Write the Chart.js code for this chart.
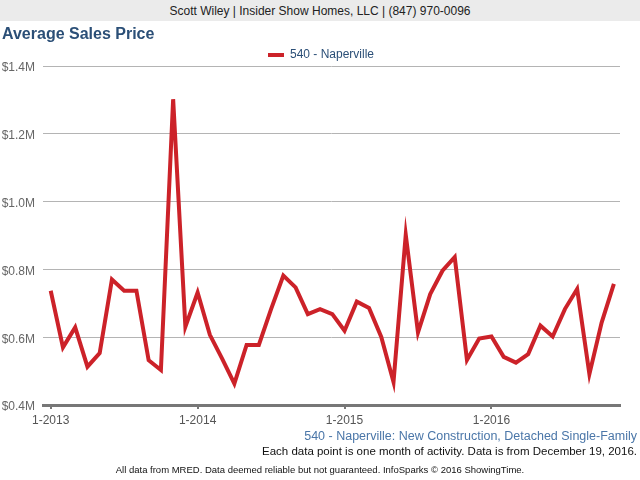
<!DOCTYPE html>
<html>
<head>
<meta charset="utf-8">
<script src="https://cdn.jsdelivr.net/npm/chart.js@4/dist/chart.umd.min.js"></script>
<style>
  body { margin: 0; width: 640px; height: 480px; background: #fff; font-family: "Liberation Sans", Arial, sans-serif; position: relative; overflow: hidden; }
  .header { position: absolute; left: 0; top: 0; width: 640px; height: 21px; background: #ebebeb; color: #222; font-size: 12px; line-height: 22px; text-align: center; }
  .title { position: absolute; left: 2px; top: 25px; font-size: 16px; font-weight: bold; color: #2b4f77; }
  .sub1 { position: absolute; right: 3px; top: 429px; font-size: 12.5px; color: #4a76a8; }
  .sub2 { position: absolute; right: 3px; top: 445px; font-size: 11.5px; color: #111; }
  .foot { position: absolute; left: 0; width: 640px; top: 464px; font-size: 9.5px; color: #111; text-align: center; }
  #wrap { position: absolute; left: 0; top: 0; width: 640px; height: 480px; }
</style>
</head>
<body>
<div id="wrap"><canvas id="chart"></canvas></div>
<div class="header">Scott Wiley | Insider Show Homes, LLC | (847) 970-0096</div>
<div class="title">Average Sales Price</div>
<div class="sub1">540 - Naperville: New Construction, Detached Single-Family</div>
<div class="sub2">Each data point is one month of activity. Data is from December 19, 2016.</div>
<div class="foot">All data from MRED. Data deemed reliable but not guaranteed. InfoSparks © 2016 ShowingTime.</div>
<script>
// months since 1-2013 (Jan 2013 .. Nov 2016)
const seriesName = "540 - Naperville";
const yearLabels = ["1-2013", "1-2014", "1-2015", "1-2016"];
const prices = [
  737000, 570000, 629000, 513000, 553000, 770000, 737000, 737000, 532000, 503000, 1302000, 631000,
  732000, 607000, 537000, 463000, 577000, 577000, 683000, 782000, 747000, 668000, 683000, 668000,
  619000, 705000, 686000, 601000, 468000, 902000, 614000, 727000, 796000, 836000, 533000, 596000,
  602000, 542000, 525000, 550000, 634000, 602000, 683000, 742000, 491000, 643000, 757000
];

const RED = "#cc2229";
const pts = prices.map((v, i) => ({ x: i, y: v }));

// legend is centred on the page, not on the padded box, and sits a bit lower
const legendShift = {
  id: "legendShift",
  afterLayout(chart) {
    const l = chart.legend;
    l.left += 11; l.right += 11;
    l.top += 5; l.bottom += 5;
  }
};

new Chart(document.getElementById("chart"), {
  type: "line",
  data: {
    datasets: [{
      label: seriesName,
      data: pts,
      borderColor: RED,
      backgroundColor: RED,
      borderWidth: 4,
      pointRadius: 0,
      tension: 0,
      fill: false
    }]
  },
  plugins: [legendShift],
  options: {
    responsive: true, maintainAspectRatio: false, animation: false,
    layout: { padding: { top: 40, right: 20, bottom: 0, left: 0 } },
    plugins: {
      tooltip: { enabled: false },
      legend: {
        display: true, position: "top",
        labels: {
          boxWidth: 16, boxHeight: 4, padding: 4,
          color: "#2b4f77", font: { family: "Liberation Sans", size: 12 },
          generateLabels: (c) => [{ text: seriesName, fillStyle: RED, strokeStyle: RED, lineWidth: 0, fontColor: "#2b4f77" }]
        }
      }
    },
    scales: {
      x: {
        type: "linear", min: -0.63, max: 46.5,
        afterBuildTicks: (s) => { s.ticks = yearLabels.map((l, i) => ({ value: i * 12 })); },
        afterFit: (s) => { s.height = 75; },
        ticks: {
          callback: (v) => yearLabels[Math.round(v / 12)],
          color: "#555", font: { family: "Liberation Sans", size: 12 }, padding: 4, maxRotation: 0
        },
        grid: { drawOnChartArea: false, drawTicks: true, tickLength: 4, color: "#777", lineWidth: 2 },
        border: { display: true, color: "#777", width: 3 }
      },
      y: {
        min: 400000, max: 1400000,
        afterFit: (s) => { s.width = 43; },
        ticks: {
          stepSize: 200000,
          callback: (v) => "$" + (v / 1000000).toFixed(1) + "M",
          color: "#666", font: { family: "Liberation Sans", size: 12 }, padding: 8, labelOffset: 2
        },
        grid: { color: "#b4b4b4", lineWidth: 1, drawTicks: false },
        border: { display: false }
      }
    }
  }
});
</script>
</body>
</html>
